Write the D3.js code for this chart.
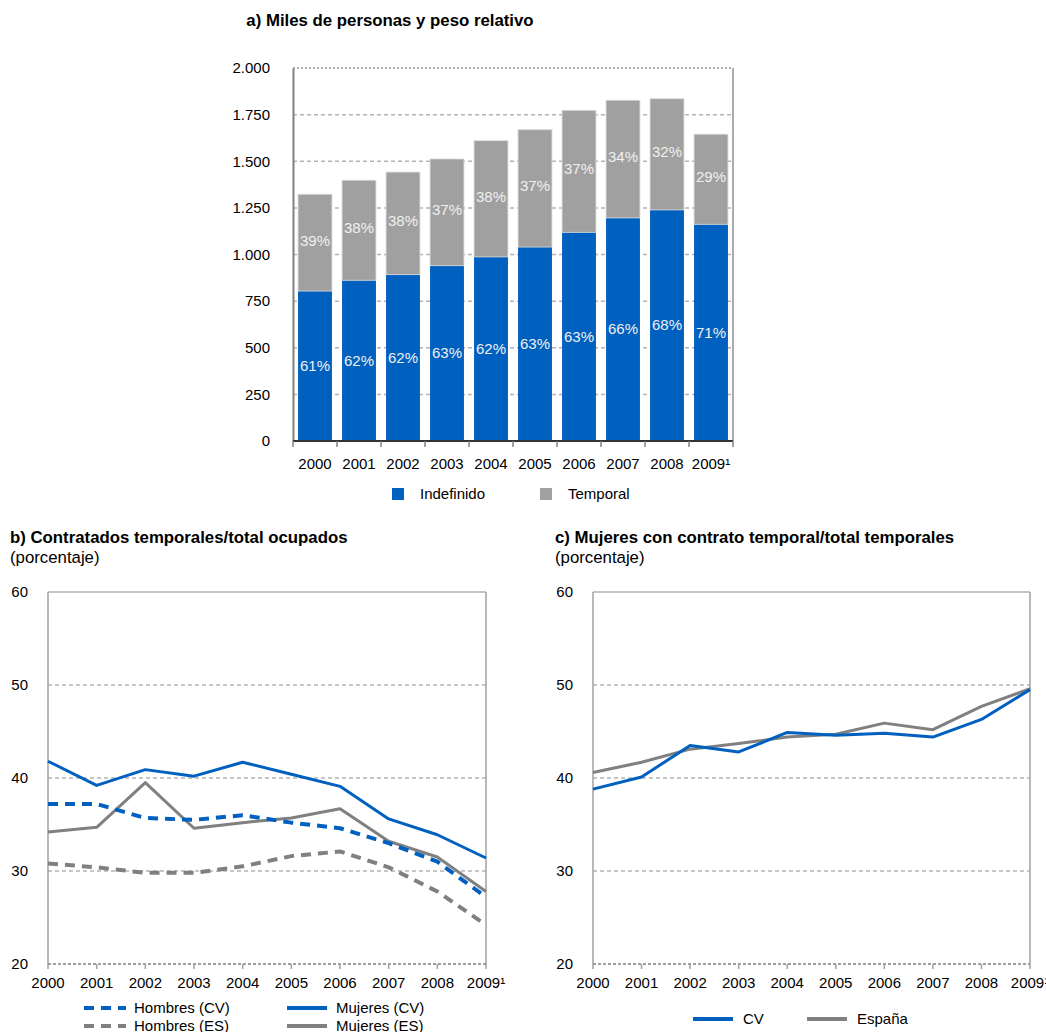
<!DOCTYPE html>
<html><head><meta charset="utf-8">
<script src="https://cdn.jsdelivr.net/npm/d3@7"></script>
<style>
body{margin:0;background:#fff;}
svg{font-family:"Liberation Sans",Arial,sans-serif;}
</style></head><body>
<svg id="c" width="1046" height="1032"></svg>
<script>
// ---------- DATA ----------
const years = ["2000","2001","2002","2003","2004","2005","2006","2007","2008","2009¹"];
// a) thousands of persons
const indefinido = [804, 862, 892, 940, 987, 1040, 1119, 1196, 1239, 1162];
const temporal   = [519, 536, 550, 572, 623, 629, 654, 631, 596, 483];
const pctIndef   = ["61%","62%","62%","63%","62%","63%","63%","66%","68%","71%"];
const pctTemp    = ["39%","38%","38%","37%","38%","37%","37%","34%","32%","29%"];
const yTicksA    = [0,250,500,750,1000,1250,1500,1750,2000];
// b) temporary / total employed (%)
const hombresCV  = [37.2, 37.2, 35.7, 35.5, 36.0, 35.2, 34.6, 33.0, 31.0, 27.2];
const mujeresCV  = [41.8, 39.2, 40.9, 40.2, 41.7, 40.4, 39.1, 35.6, 33.9, 31.4];
const hombresES  = [30.8, 30.4, 29.8, 29.8, 30.5, 31.6, 32.1, 30.4, 27.8, 24.2];
const mujeresES  = [34.2, 34.7, 39.5, 34.6, 35.2, 35.7, 36.7, 33.2, 31.5, 27.8];
// c) women with temporary contract / total temporary (%)
const cv     = [38.8, 40.1, 43.5, 42.8, 44.9, 44.6, 44.8, 44.4, 46.3, 49.5];
const espana = [40.6, 41.7, 43.1, 43.7, 44.4, 44.7, 45.9, 45.2, 47.7, 49.6];
const yTicksBC = [20,30,40,50,60];

// ---------- STYLE ----------
const BLUE="#0060BF", BAR_GRAY="#A0A0A0", LINE_GRAY="#808080", GRID="#b4b4b4";
const FS=15, TFS=16.8;
const es = d3.formatLocale({decimal:",",thousands:".",grouping:[3],currency:["","€"]});
const fmt = es.format(",d");
const svg = d3.select("#c");

// ---------- CHART A ----------
{
  const L=293,R=733,T=68,B=441;
  const x=d3.scaleBand().domain(years).range([L,R]).paddingInner(0.23).paddingOuter(0.115);
  const y=d3.scaleLinear().domain([0,2000]).range([B,T]);
  const g=svg.append("g");
  g.append("text").attr("x",390).attr("y",26).attr("text-anchor","middle")
    .attr("font-weight","bold").attr("font-size",TFS).text("a) Miles de personas y peso relativo");
  // grid
  g.selectAll(".gr").data(yTicksA.filter(d=>d>0&&d<2000)).join("line")
    .attr("x1",L).attr("x2",R).attr("y1",d=>y(d)).attr("y2",d=>y(d))
    .attr("stroke",GRID).attr("stroke-width",1.5).attr("stroke-dasharray","4,3");
  g.append("line").attr("x1",L).attr("x2",R).attr("y1",T).attr("y2",T)
    .attr("stroke","#909090").attr("stroke-width",1.5).attr("stroke-dasharray","2,2");
  g.append("line").attr("x1",R).attr("x2",R).attr("y1",T).attr("y2",B)
    .attr("stroke","#909090").attr("stroke-width",1.5);
  // bars
  g.selectAll(".bi").data(years).join("rect")
    .attr("x",d=>x(d)).attr("width",x.bandwidth())
    .attr("y",(d,i)=>y(indefinido[i])).attr("height",(d,i)=>B-y(indefinido[i])).attr("fill",BLUE);
  g.selectAll(".bt").data(years).join("rect")
    .attr("x",d=>x(d)).attr("width",x.bandwidth())
    .attr("y",(d,i)=>y(indefinido[i]+temporal[i])).attr("height",(d,i)=>y(indefinido[i])-y(indefinido[i]+temporal[i]))
    .attr("fill",BAR_GRAY).attr("stroke","#d8d8d8").attr("stroke-width",0.8);
  // labels
  g.selectAll(".li").data(years).join("text")
    .attr("x",d=>x(d)+x.bandwidth()/2).attr("y",(d,i)=>(y(indefinido[i])+B)/2+5)
    .attr("text-anchor","middle").attr("font-size",FS).attr("fill","#f0f0f0").text((d,i)=>pctIndef[i]);
  g.selectAll(".lt").data(years).join("text")
    .attr("x",d=>x(d)+x.bandwidth()/2).attr("y",(d,i)=>(y(indefinido[i])+y(indefinido[i]+temporal[i]))/2+3)
    .attr("text-anchor","middle").attr("font-size",FS).attr("fill","#f0f0f0").text((d,i)=>pctTemp[i]);
  // y axis
  const ya=g.append("g").attr("transform",`translate(${L},0)`)
    .call(d3.axisLeft(y).tickValues(yTicksA).tickFormat(fmt).tickSize(0).tickPadding(23));
  ya.select(".domain").attr("stroke","#808080").attr("stroke-width",2);
  ya.selectAll("text").attr("font-size",FS).attr("fill","#000").attr("font-family","Liberation Sans, Arial");
  // x axis
  g.append("line").attr("x1",L).attr("x2",R).attr("y1",B).attr("y2",B).attr("stroke","#333").attr("stroke-width",2);
  const bounds=years.map(d=>x(d)-x.step()*x.paddingInner()/2).concat([R]);
  g.selectAll(".xt").data(bounds).join("line").attr("x1",d=>d).attr("x2",d=>d).attr("y1",B).attr("y2",B+6)
    .attr("stroke","#808080").attr("stroke-width",1.5);
  g.selectAll(".xl").data(years).join("text")
    .attr("x",d=>x(d)+x.bandwidth()/2).attr("y",469).attr("text-anchor","middle").attr("font-size",FS).text(d=>d);
  // legend
  g.append("rect").attr("x",392).attr("y",488).attr("width",12).attr("height",12).attr("fill",BLUE);
  g.append("text").attr("x",420).attr("y",499).attr("font-size",FS).text("Indefinido");
  g.append("rect").attr("x",540).attr("y",488).attr("width",12).attr("height",12).attr("fill",BAR_GRAY);
  g.append("text").attr("x",568).attr("y",499).attr("font-size",FS).text("Temporal");
}

// ---------- LINE CHART HELPER ----------
function lineChart(L,R,title,series,legend){
  const T=592,B=964;
  const x=d3.scalePoint().domain(years).range([L,R]);
  const y=d3.scaleLinear().domain([20,60]).range([B,T]);
  const g=svg.append("g");
  g.append("text").attr("x",title.x).attr("y",543).attr("font-weight","bold").attr("font-size",TFS).text(title.t);
  g.append("text").attr("x",title.x).attr("y",563).attr("font-size",TFS).text("(porcentaje)");
  g.selectAll(".gr").data([30,40,50]).join("line")
    .attr("x1",L).attr("x2",R).attr("y1",d=>y(d)).attr("y2",d=>y(d))
    .attr("stroke",GRID).attr("stroke-width",1.5).attr("stroke-dasharray","4,3");
  g.append("line").attr("x1",L).attr("x2",R).attr("y1",T).attr("y2",T).attr("stroke","#b0b0b0").attr("stroke-width",1.5);
  g.append("line").attr("x1",R).attr("x2",R).attr("y1",T).attr("y2",B).attr("stroke","#a0a0a0").attr("stroke-width",1.5);
  g.append("line").attr("x1",L).attr("x2",L).attr("y1",T).attr("y2",B).attr("stroke","#a0a0a0").attr("stroke-width",1.5);
  g.append("line").attr("x1",L).attr("x2",R).attr("y1",B).attr("y2",B).attr("stroke","#808080").attr("stroke-width",1.5).attr("stroke-dasharray","3,2");
  g.selectAll(".xt").data(years).join("line").attr("x1",d=>x(d)).attr("x2",d=>x(d)).attr("y1",B).attr("y2",B+5)
    .attr("stroke","#a0a0a0").attr("stroke-width",1.5);
  g.selectAll(".yl").data(yTicksBC).join("text").attr("x",L-20).attr("y",d=>y(d)+5)
    .attr("text-anchor","end").attr("font-size",FS).text(d=>d);
  g.selectAll(".xl").data(years).join("text").attr("x",d=>x(d)).attr("y",988)
    .attr("text-anchor","middle").attr("font-size",FS).text(d=>d);
  const line=d3.line().x((d,i)=>x(years[i])).y(d=>y(d));
  series.forEach(s=>{
    g.append("path").datum(s.v).attr("d",line).attr("fill","none").attr("stroke",s.c)
      .attr("stroke-width",s.dash?4:3).attr("stroke-dasharray",s.dash?"10,7":null).attr("stroke-linejoin","round");
  });
  legend.forEach(l=>{
    g.append("line").attr("x1",l.x).attr("x2",l.x+l.w).attr("y1",l.y).attr("y2",l.y)
      .attr("stroke",l.c).attr("stroke-width",4).attr("stroke-dasharray",l.dash?"10,7":null);
    g.append("text").attr("x",l.tx).attr("y",l.y+5).attr("font-size",FS).text(l.t);
  });
}

lineChart(48,486,{x:10,t:"b)  Contratados temporales/total ocupados"},[
  {v:hombresES,c:LINE_GRAY,dash:true},
  {v:mujeresES,c:LINE_GRAY,dash:false},
  {v:hombresCV,c:BLUE,dash:true},
  {v:mujeresCV,c:BLUE,dash:false}
],[
  {x:84,w:42,y:1008,c:BLUE,dash:true,tx:134,t:"Hombres (CV)"},
  {x:287,w:40,y:1008,c:BLUE,dash:false,tx:336,t:"Mujeres (CV)"},
  {x:84,w:42,y:1026,c:LINE_GRAY,dash:true,tx:134,t:"Hombres (ES)"},
  {x:287,w:40,y:1026,c:LINE_GRAY,dash:false,tx:336,t:"Mujeres (ES)"}
]);

lineChart(593,1030,{x:555,t:"c)  Mujeres con contrato temporal/total temporales"},[
  {v:espana,c:LINE_GRAY,dash:false},
  {v:cv,c:BLUE,dash:false}
],[
  {x:693,w:40,y:1019,c:BLUE,dash:false,tx:743,t:"CV"},
  {x:807,w:40,y:1019,c:LINE_GRAY,dash:false,tx:857,t:"España"}
]);
</script></body></html>
